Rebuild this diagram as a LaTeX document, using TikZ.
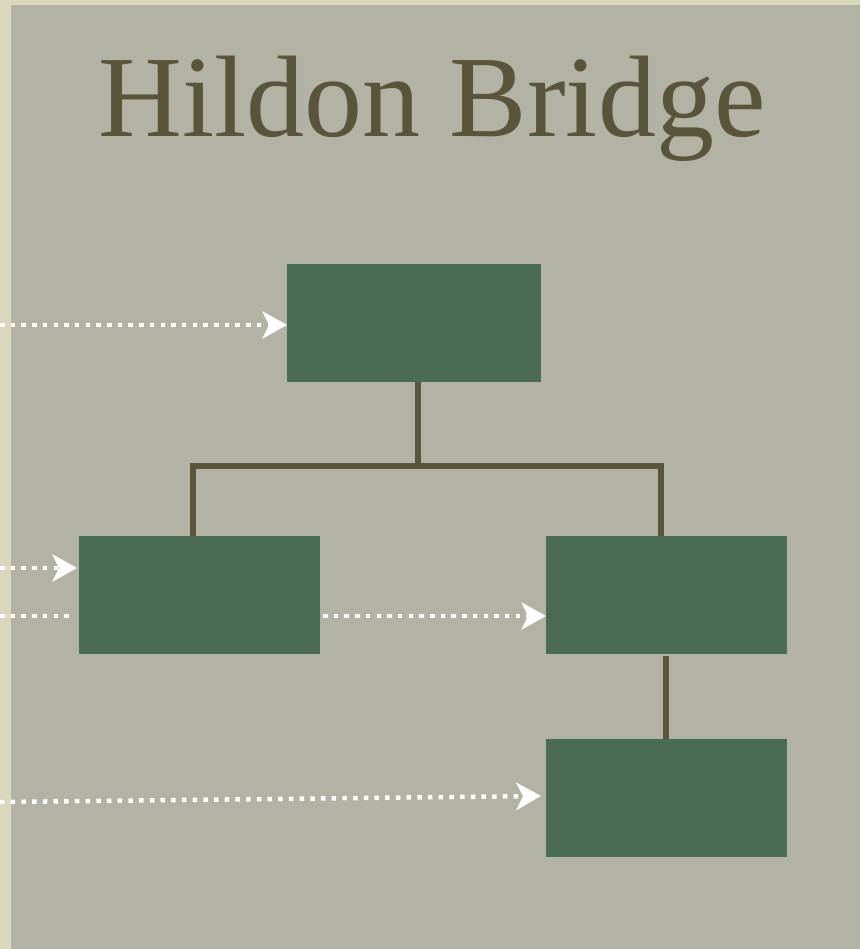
\documentclass[tikz,border=0pt]{standalone}
\usepackage{fontspec}
\setmainfont{Liberation Serif}
\usetikzlibrary{arrows.meta}
\definecolor{bgray}{HTML}{B2B3A5}
\definecolor{strip}{HTML}{D9D8BC}
\definecolor{boxgreen}{HTML}{4B6C54}
\definecolor{olive}{HTML}{5A553A}
\tikzset{
  x=1pt, y=-1pt,
  greenbox/.style={fill=boxgreen, draw=none, minimum width=#1, minimum height=118pt, inner sep=0pt, anchor=north west},
  greenbox/.default=254pt,
  tree/.style={draw=olive, line width=5.5pt},
  flow/.style={draw=white, line width=4.5pt, dash pattern=on 4.5pt off 6.2pt},
  flowtip/.style={flow, -{Stealth[length=25pt, width=28pt, inset=7pt, line width=0pt]}},
}
\begin{document}
\begin{tikzpicture}
\useasboundingbox (0,0) rectangle (860,949);
\fill[strip] (0,0) rectangle (860,949);
\fill[bgray] (11,5) rectangle (860,949);
\node[anchor=base, text=olive, font=\fontsize{116}{120}\selectfont] (title) at (432,137) {Hildon Bridge};
% boxes
\node[greenbox=254pt] (top) at (287,264) {};
\node[greenbox=241pt] (left) at (79,536) {};
\node[greenbox=241pt] (right) at (546,536) {};
\node[greenbox=241pt] (bottom) at (546,739) {};
% tree connectors
\coordinate (j) at (418,466);
\coordinate (jl) at (193,466);
\coordinate (jr) at (661,466);
\coordinate (le) at (193,533);
\coordinate (re) at (661,533);
\draw[tree] (top.south -| j) -- (j);
\draw[tree, line cap=rect] (le) -- (jl) -- (jr) -- (re);
\draw[tree] (666,656) coordinate (rb) -- (bottom.north -| rb);
% dotted arrows
\coordinate (s1) at (0,325);
\coordinate (s2) at (0,568);
\coordinate (s3) at (0,616);
\coordinate (e3) at (73,616);
\coordinate (s4) at (0,802);
\coordinate (t4) at (541,796);
\draw[flowtip] (s1) -- (top.west |- s1);
\draw[flowtip] (s2) -- (77,568) coordinate (t2);
\draw[flow] (s3) -- (e3);
\draw[flowtip] (323,616) coordinate (s5) -- (right.west |- s5);
\draw[flowtip] (s4) -- (t4);
\end{tikzpicture}
\end{document}
